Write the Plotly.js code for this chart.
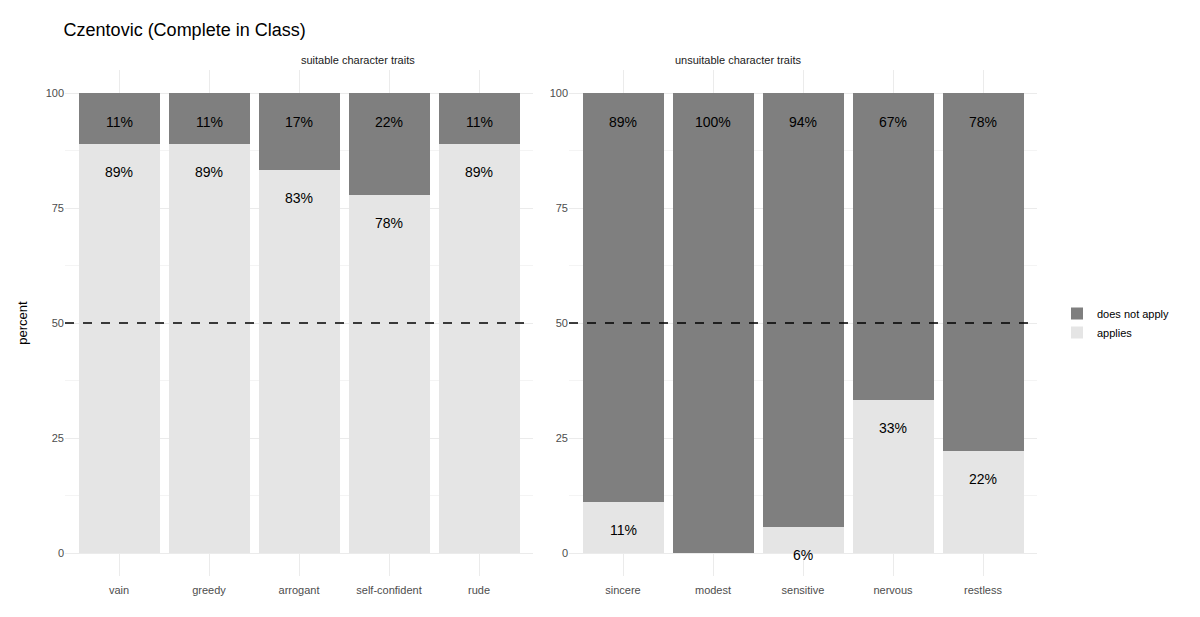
<!DOCTYPE html>
<html>
<head>
<meta charset="utf-8">
<script src="https://cdn.plot.ly/plotly-3.0.1.min.js"></script>
<style>body{margin:0;background:#fff}#chart{width:1200px;height:617px}</style>
</head>
<body>
<div id="chart"></div>
<script>
const suitable = ["vain", "greedy", "arrogant", "self-confident", "rude"];
const suitableApplies = [89, 89, 83, 78, 89];
const suitableNot = [11, 11, 17, 22, 11];
const unsuitable = ["sincere", "modest", "sensitive", "nervous", "restless"];
const unsuitableApplies = [11, 0, 6, 33, 22];
const unsuitableNot = [89, 100, 94, 67, 78];
// exact shares for bar heights (labels are rounded)
const unsuitableAppliesExact = [11.1, 0, 5.6, 33.3, 22.2];
const suitableAppliesExact = [88.9, 88.9, 83.3, 77.8, 88.9];

const light = "#e5e5e5", dark = "#7f7f7f";

function bars(cats, applies, xa, ya, legend) {
  return [
    {type: "bar", x: cats, y: applies, name: "applies", marker: {color: light},
     xaxis: xa, yaxis: ya, showlegend: legend, legendrank: 2, width: 0.9, hoverinfo: "skip"},
    {type: "bar", x: cats, y: applies.map((a) => 100 - a), name: "does not apply", marker: {color: dark},
     xaxis: xa, yaxis: ya, showlegend: legend, legendrank: 1, width: 0.9, hoverinfo: "skip"}
  ];
}

const data = [
  ...bars(suitable, suitableAppliesExact, "x", "y", true),
  ...bars(unsuitable, unsuitableAppliesExact, "x2", "y2", false)
];

const annotations = [];
function labels(cats, appliesExact, applies, notApply, xr, yr) {
  cats.forEach((c, i) => {
    annotations.push({x: c, y: 100, xref: xr, yref: yr, text: notApply[i] + "%", showarrow: false,
      yshift: -29, font: {size: 14, color: "#000"}});
    if (applies[i] > 0) annotations.push({x: c, y: appliesExact[i], xref: xr, yref: yr, text: applies[i] + "%",
      showarrow: false, yshift: -28, font: {size: 14, color: "#000"}});
  });
}
labels(suitable, suitableAppliesExact, suitableApplies, suitableNot, "x", "y");
labels(unsuitable, unsuitableAppliesExact, unsuitableApplies, unsuitableNot, "x2", "y2");
annotations.push({text: "suitable character traits", x: 0.2495, y: 1.02, yanchor: "middle", xref: "paper", yref: "paper",
  showarrow: false, font: {size: 11, color: "#1a1a1a"}});
annotations.push({text: "unsuitable character traits", x: 0.669, y: 1.02, yanchor: "middle", xref: "paper", yref: "paper",
  showarrow: false, font: {size: 11, color: "#1a1a1a"}});

const yax = {range: [-5, 105], tickvals: [0, 25, 50, 75, 100], gridcolor: "#ebebeb", zeroline: false,
  minor: {tickvals: [12.5, 37.5, 62.5, 87.5], showgrid: true, gridcolor: "#f4f4f4"},
  tickfont: {size: 11, color: "#4d4d4d"}, ticks: "", fixedrange: true};
const xax = {gridcolor: "#ebebeb", tickfont: {size: 11, color: "#4d4d4d"}, range: [-0.6, 4.6], ticklabelstandoff: 6};

const layout = {
  width: 1200, height: 617,
  margin: {l: 0, r: 0, t: 70, b: 41},
  paper_bgcolor: "#fff", plot_bgcolor: "#fff",
  font: {family: "Liberation Sans, Arial, sans-serif"},
  barmode: "stack",
  title: {text: "Czentovic (Complete in Class)", x: 0.053, xanchor: "left", y: 0.952, yanchor: "middle", font: {size: 18, color: "#000"}},
  xaxis: Object.assign({domain: [65/1200, 533/1200]}, xax),
  xaxis2: Object.assign({domain: [569/1200, 1037/1200], anchor: "y2"}, xax),
  yaxis: Object.assign({title: {text: "percent", font: {size: 13, color: "#000"}, standoff: 15}, anchor: "x"}, yax),
  yaxis2: Object.assign({anchor: "x2"}, yax),
  shapes: [
    {type: "line", xref: "x domain", yref: "y", x0: 0, x1: 1, y0: 50, y1: 50, line: {dash: "dash", width: 1.3, color: "#000"}},
    {type: "line", xref: "x2 domain", yref: "y2", x0: 0, x1: 1, y0: 50, y1: 50, line: {dash: "dash", width: 1.3, color: "#000"}}
  ],
  annotations: annotations,
  legend: {x: 1057/1200, y: 0.5, yanchor: "middle", traceorder: "normal", font: {size: 11, color: "#000"},
    itemwidth: 30, tracegroupgap: 4}
};

Plotly.newPlot("chart", data, layout, {displayModeBar: false, staticPlot: true});
</script>
</body>
</html>
